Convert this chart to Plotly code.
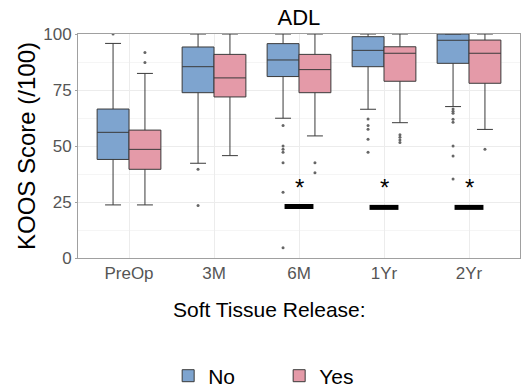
import plotly.graph_objects as go

categories = ["PreOp", "3M", "6M", "1Yr", "2Yr"]

# Soft Tissue Release: No
no_q1 = [44.0, 73.8, 81.0, 85.4, 86.9]
no_median = [56.1, 85.4, 88.4, 92.7, 97.2]
no_q3 = [66.5, 94.2, 95.7, 98.8, 100.0]
no_lower = [23.7, 42.3, 62.4, 66.4, 67.6]
no_upper = [95.8, 100.0, 100.0, 100.0, 100.0]
no_outliers = [
    [100.0],
    [39.6, 23.4],
    [59.1, 50.0, 48.5, 47.2, 42.5, 29.3, 4.6],
    [62.0, 59.1, 57.5, 53.0, 47.2],
    [66.5, 65.5, 64.6, 61.9, 60.6, 50.0, 45.5, 35.3],
]

# Soft Tissue Release: Yes
yes_q1 = [39.6, 71.9, 73.8, 78.9, 78.0]
yes_median = [48.5, 80.4, 84.1, 91.4, 91.4]
yes_q3 = [57.1, 90.9, 90.9, 94.3, 97.3]
yes_lower = [23.7, 45.7, 54.5, 60.4, 57.4]
yes_upper = [82.4, 100.0, 100.0, 100.0, 100.0]
yes_outliers = [
    [87.3, 91.7],
    [],
    [42.5, 38.1],
    [55.0, 53.9, 52.7, 51.6],
    [48.5],
]

# significance markers
sig_categories = ["6M", "1Yr", "2Yr"]
sig_bar_y = [23.0, 22.6, 22.6]
sig_star_y = [31.5, 31.5, 31.5]

BLUE = "#7EA4CF"
PINK = "#E49AA8"
LINE = "#3a3a3a"
OFF = 0.1875
BW = 0.375

idx = list(range(len(categories)))
fig = go.Figure()

fig.add_trace(go.Box(
    name="No", x=[i - OFF for i in idx], q1=no_q1, median=no_median, q3=no_q3,
    lowerfence=no_lower, upperfence=no_upper, width=BW,
    fillcolor=BLUE, line=dict(color=LINE, width=1), boxpoints=False,
))
fig.add_trace(go.Box(
    name="Yes", x=[i + OFF for i in idx], q1=yes_q1, median=yes_median, q3=yes_q3,
    lowerfence=yes_lower, upperfence=yes_upper, width=BW,
    fillcolor=PINK, line=dict(color=LINE, width=1), boxpoints=False,
))

ox, oy = [], []
for i, vals in enumerate(no_outliers):
    for v in vals:
        ox.append(i - OFF); oy.append(v)
for i, vals in enumerate(yes_outliers):
    for v in vals:
        ox.append(i + OFF); oy.append(v)
fig.add_trace(go.Scatter(x=ox, y=oy, mode="markers", showlegend=False,
                         marker=dict(size=3, color="#666666")))

for c, by, sy in zip(sig_categories, sig_bar_y, sig_star_y):
    i = categories.index(c)
    fig.add_shape(type="line", xref="x", yref="y", x0=i - 0.17, x1=i + 0.17,
                  y0=by, y1=by, line=dict(color="black", width=5))
    fig.add_annotation(x=i, y=sy, xref="x", yref="y", text="*", showarrow=False,
                       font=dict(size=24, color="black"), yanchor="middle")

fig.add_annotation(x=0.434, y=-0.232, xref="paper", yref="paper",
                   text="Soft Tissue Release:", showarrow=False,
                   font=dict(size=21, color="black"), yanchor="middle")

fig.update_layout(
    width=524, height=389,
    margin=dict(l=78, r=4, t=34, b=131, autoexpand=False),
    paper_bgcolor="white", plot_bgcolor="white",
    font=dict(family="Liberation Sans, Arial, sans-serif"),
    title=dict(text="ADL", x=0.5705, xanchor="center", y=0.955, yanchor="middle",
               font=dict(size=22, color="black")),
    boxmode="overlay",
    showlegend=True,
    legend=dict(orientation="h", x=0.204, xanchor="left", y=-0.527, yanchor="middle",
                font=dict(size=21, color="black"), entrywidth=66,
                entrywidthmode="pixels"),
    xaxis=dict(range=[-0.6, 4.6], tickvals=idx, ticktext=categories,
               showgrid=True, gridcolor="#ececec", gridwidth=1,
               showline=True, linecolor="#a0a0a0", mirror=True,
               ticks="", tickfont=dict(size=17, color="#555555"), zeroline=False),
    yaxis=dict(range=[0, 100], tickvals=[0, 25, 50, 75, 100],
               showgrid=True, gridcolor="#ececec", gridwidth=1,
               minor=dict(dtick=12.5, tick0=0, showgrid=True, gridcolor="#f5f5f5"),
               showline=True, linecolor="#a0a0a0", mirror=True,
               ticks="outside", ticklen=2, tickcolor="#a0a0a0",
               tickfont=dict(size=17, color="#555555"), zeroline=False,
               title=dict(text="KOOS Score (/100)", font=dict(size=24, color="black"),
                          standoff=0)),
)

fig.write_html("out.html")
